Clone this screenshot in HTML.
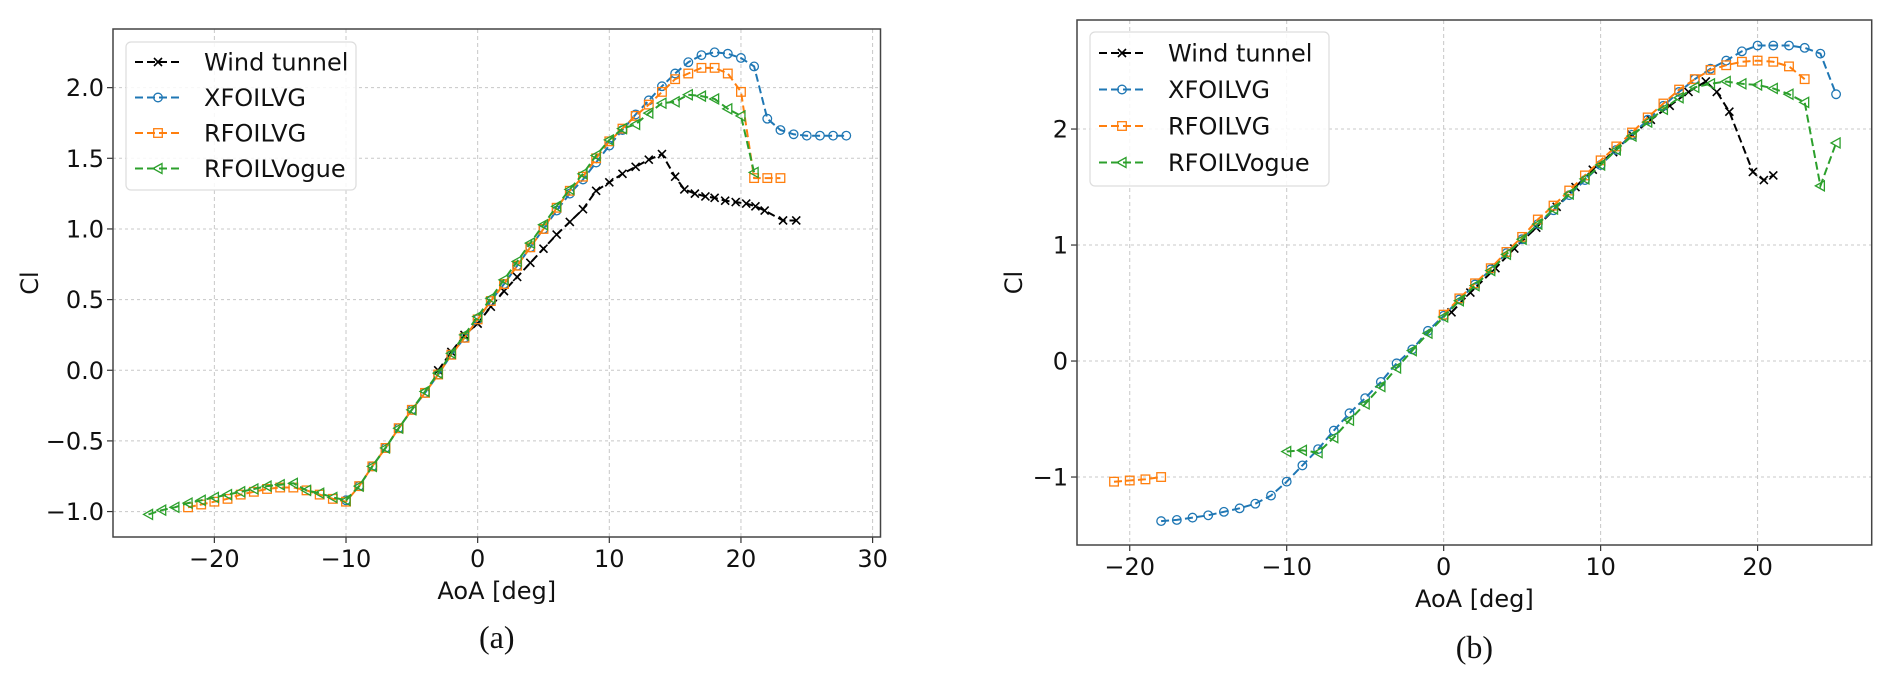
<!DOCTYPE html>
<html><head><meta charset="utf-8"><style>
html,body{margin:0;padding:0;background:#fff}
svg{display:block}
text{font-family:"DejaVu Sans","Liberation Sans",sans-serif;fill:#111}
</style></head><body>
<svg id="fig" width="1892" height="678" viewBox="0 0 1892 678" xmlns="http://www.w3.org/2000/svg"></svg>
<script>
// ---------- Chart (a) data ----------
const aWindX=[-3,-2,-1,0,1,2,3,4,5,6,7,8,9,10,11,12,13,14,15,15.7,16.5,17.3,18,18.8,19.6,20.4,21.1,21.8,23.2,24.2];
const aWindY=[0.0,0.13,0.25,0.33,0.45,0.56,0.66,0.76,0.86,0.96,1.05,1.14,1.27,1.33,1.39,1.44,1.49,1.53,1.37,1.28,1.25,1.23,1.22,1.20,1.19,1.18,1.16,1.13,1.06,1.06];
const aXfX=[-10,-9,-8,-7,-6,-5,-4,-3,-2,-1,0,1,2,3,4,5,6,7,8,9,10,11,12,13,14,15,16,17,18,19,20,21,22,23,24,25,26,27,28];
const aXfY=[-0.92,-0.82,-0.68,-0.55,-0.41,-0.28,-0.16,-0.03,0.11,0.23,0.36,0.49,0.61,0.74,0.87,1.0,1.13,1.25,1.35,1.47,1.59,1.70,1.81,1.91,2.01,2.10,2.18,2.23,2.25,2.24,2.21,2.15,1.78,1.70,1.67,1.66,1.66,1.66,1.66];
const aRfX=[-22,-21,-20,-19,-18,-17,-16,-15,-14,-13,-12,-11,-10,-9,-8,-7,-6,-5,-4,-3,-2,-1,0,1,2,3,4,5,6,7,8,9,10,11,12,13,14,15,16,17,18,19,20,21,22,23];
const aRfY=[-0.97,-0.95,-0.93,-0.91,-0.88,-0.86,-0.84,-0.83,-0.83,-0.85,-0.88,-0.91,-0.93,-0.82,-0.68,-0.55,-0.41,-0.28,-0.16,-0.03,0.11,0.23,0.36,0.49,0.61,0.74,0.87,1.0,1.15,1.27,1.37,1.50,1.62,1.71,1.80,1.88,1.97,2.06,2.10,2.14,2.14,2.10,1.97,1.36,1.36,1.36];
const aVgX=[-25,-24,-23,-22,-21,-20,-19,-18,-17,-16,-15,-14,-13,-12,-11,-10,-9,-8,-7,-6,-5,-4,-3,-2,-1,0,1,2,3,4,5,6,7,8,9,10,11,12,13,14,15,16,17,18,19,20,21];
const aVgY=[-1.02,-0.99,-0.97,-0.94,-0.92,-0.90,-0.88,-0.86,-0.84,-0.82,-0.81,-0.80,-0.85,-0.87,-0.90,-0.92,-0.82,-0.68,-0.55,-0.41,-0.28,-0.15,-0.02,0.12,0.25,0.38,0.51,0.64,0.77,0.90,1.03,1.16,1.28,1.39,1.52,1.63,1.71,1.74,1.82,1.89,1.90,1.95,1.94,1.92,1.85,1.80,1.40];
const aXTicks=[-20,-10,0,10,20,30];
const aYTicks=[-1.0,-0.5,0.0,0.5,1.0,1.5,2.0];
const aYTickLabels=["\u22121.0","\u22120.5","0.0","0.5","1.0","1.5","2.0"];
// ---------- Chart (b) data ----------
const bWindX=[0.5,1.7,3.3,4.5,5.9,7.2,8.4,9.5,10.8,12.0,13.2,14.4,15.6,16.7,17.4,18.2,19.7,20.4,21.0];
const bWindY=[0.42,0.59,0.80,0.97,1.15,1.33,1.50,1.65,1.80,1.95,2.08,2.20,2.32,2.41,2.32,2.15,1.63,1.56,1.60];
const bXfX=[-18,-17,-16,-15,-14,-13,-12,-11,-10,-9,-8,-7,-6,-5,-4,-3,-2,-1,0,1,2,3,4,5,6,7,8,9,10,11,12,13,14,15,16,17,18,19,20,21,22,23,24,25];
const bXfY=[-1.38,-1.37,-1.35,-1.33,-1.30,-1.27,-1.23,-1.16,-1.04,-0.90,-0.76,-0.60,-0.45,-0.32,-0.18,-0.02,0.10,0.26,0.39,0.53,0.66,0.79,0.93,1.05,1.18,1.30,1.43,1.56,1.69,1.82,1.95,2.08,2.20,2.32,2.43,2.52,2.59,2.67,2.72,2.72,2.72,2.70,2.65,2.30];
const bRfX=[-21,-20,-19,-18,null,0,1,2,3,4,5,6,7,8,9,10,11,12,13,14,15,16,17,18,19,20,21,22,23];
const bRfY=[-1.04,-1.03,-1.02,-1.00,null,0.40,0.54,0.67,0.80,0.94,1.07,1.22,1.34,1.47,1.60,1.73,1.85,1.97,2.10,2.22,2.34,2.43,2.51,2.55,2.58,2.59,2.58,2.54,2.43];
const bVgX=[-10,-9,-8,-7,-6,-5,-4,-3,-2,-1,0,1,2,3,4,5,6,7,8,9,10,11,12,13,14,15,16,17,18,19,20,21,22,23,24,25];
const bVgY=[-0.78,-0.77,-0.79,-0.66,-0.51,-0.37,-0.22,-0.06,0.09,0.24,0.38,0.52,0.65,0.78,0.92,1.05,1.18,1.31,1.44,1.57,1.69,1.82,1.94,2.06,2.17,2.27,2.36,2.39,2.41,2.39,2.38,2.35,2.30,2.23,1.51,1.88];
const bXTicks=[-20,-10,0,10,20];
const bYTicks=[-1,0,1,2];
const bYTickLabels=["\u22121","0","1","2"];
const xTickLabelsA=["\u221220","\u221210","0","10","20","30"];
const xTickLabelsB=["\u221220","\u221210","0","10","20"];
const seriesNames=["Wind tunnel","XFOILVG","RFOILVG","RFOILVogue"];

const NS="http://www.w3.org/2000/svg";
const svg=document.getElementById('fig');
function mk(tag,attrs,parent){const e=document.createElementNS(NS,tag);for(const k in attrs)e.setAttribute(k,attrs[k]);(parent||svg).appendChild(e);return e;}
const COLORS=["#000000","#1f77b4","#ff7f0e","#2ca02c"];
const MARKS=["x","o","s","<"];

function marker(g,type,x,y,c){
  let m;
  if(type==="x"){m=mk('path',{d:`M${x-4},${y-4}L${x+4},${y+4}M${x-4},${y+4}L${x+4},${y-4}`,stroke:c,'stroke-width':1.6,fill:'none'},g);}
  else if(type==="o"){m=mk('circle',{cx:x,cy:y,r:4.3,stroke:c,'stroke-width':1.3,fill:'none'},g);}
  else if(type==="s"){m=mk('rect',{x:x-4.3,y:y-4.3,width:8.6,height:8.6,stroke:c,'stroke-width':1.3,fill:'none'},g);}
  else {m=mk('path',{d:`M${x-5},${y}L${x+4},${y-5}L${x+4},${y+5}Z`,stroke:c,'stroke-width':1.3,fill:'none'},g);}
  return m;
}

function chart(cfg){
  const {L,T,R,B,xmin,xmax,ymin,ymax,xt,xtl,yt,ytl,series,name,legend,ylabX,caption}=cfg;
  const X=v=>L+(v-xmin)/(xmax-xmin)*(R-L);
  const Y=v=>B-(v-ymin)/(ymax-ymin)*(B-T);
  const g=mk('g',{});
  
  
  const grid=mk('g',{},g);
  
  
  xt.forEach((v,i)=>{
    mk('line',{x1:X(v),x2:X(v),y1:T,y2:B,stroke:'#c8c8c8','stroke-width':1,'stroke-dasharray':'4,3'},grid);
    mk('line',{x1:X(v),x2:X(v),y1:B,y2:B+6,stroke:'#333','stroke-width':1.2},g);
    const t=mk('text',{x:X(v),y:B+30,'text-anchor':'middle','font-size':24},g);t.textContent=xtl[i];
    
    
  });
  yt.forEach((v,i)=>{
    mk('line',{x1:L,x2:R,y1:Y(v),y2:Y(v),stroke:'#c8c8c8','stroke-width':1,'stroke-dasharray':'3,3'},grid);
    mk('line',{x1:L-6,x2:L,y1:Y(v),y2:Y(v),stroke:'#333','stroke-width':1.2},g);
    const t=mk('text',{x:L-9,y:Y(v)+8.5,'text-anchor':'end','font-size':24},g);t.textContent=ytl[i];
    
    
  });
  series.forEach((s,si)=>{
    const sg=mk('g',{},g);
    
    
    let d="",pen=false;
    s.x.forEach((xv,i)=>{if(xv===null){pen=false;return;}d+=(pen?"L":"M")+X(xv).toFixed(1)+","+Y(s.y[i]).toFixed(1);pen=true;});
    mk('path',{d:d,stroke:COLORS[si],'stroke-width':2,fill:'none','stroke-dasharray':'8,4'},sg);
    s.x.forEach((xv,i)=>{if(xv===null)return;const m=marker(sg,MARKS[si],X(xv),Y(s.y[i]),COLORS[si]);
      
      });
  });
  mk('rect',{x:L,y:T,width:R-L,height:B-T,fill:'none',stroke:'#444','stroke-width':1.5},g);
  const xl=mk('text',{x:(L+R)/2,y:B+62,'text-anchor':'middle','font-size':24},g);xl.textContent="AoA [deg]";
  
  
  const yl=mk('text',{x:ylabX,y:(T+B)/2,'text-anchor':'middle','font-size':24,transform:`rotate(-90 ${ylabX} ${(T+B)/2})`},g);yl.textContent="Cl";
  
  
  const cap=mk('text',{x:(L+R)/2,y:caption,'text-anchor':'middle','font-size':32,style:'font-family:"Liberation Serif",serif'},g);cap.textContent=cfg.capText;
  
  
  const lg=mk('g',{},g);
  
  
  mk('rect',{x:legend.x,y:legend.y,width:legend.w,height:legend.h,rx:5,fill:'#fff','fill-opacity':0.85,stroke:'#ddd','stroke-width':1.2},lg);
  seriesNames.forEach((n,i)=>{
    const yy=legend.y+legend.first+i*legend.dy;
    const e=mk('g',{},lg);
    
    
    mk('line',{x1:legend.x+9,x2:legend.x+55,y1:yy,y2:yy,stroke:COLORS[i],'stroke-width':2,'stroke-dasharray':'8,4'},e);
    marker(e,MARKS[i],legend.x+32,yy,COLORS[i]);
    const t=mk('text',{x:legend.x+78,y:yy+8.5,'font-size':24},e);t.textContent=n;
  });
}

chart({L:113,T:29,R:880.5,B:537,xmin:-27.7,xmax:30.6,ymin:-1.18,ymax:2.415,xt:aXTicks,xtl:xTickLabelsA,yt:aYTicks,ytl:aYTickLabels,
  series:[{x:aWindX,y:aWindY},{x:aXfX,y:aXfY},{x:aRfX,y:aRfY},{x:aVgX,y:aVgY}],name:'chart-a',ylabX:38,caption:648,capText:'(a)',
  legend:{x:126,y:42,w:230,h:148,first:20,dy:35.5}});
chart({L:1077,T:20,R:1871.7,B:545,xmin:-23.36,xmax:27.27,ymin:-1.586,ymax:2.94,xt:bXTicks,xtl:xTickLabelsB,yt:bYTicks,ytl:bYTickLabels,
  series:[{x:bWindX,y:bWindY},{x:bXfX,y:bXfY},{x:bRfX,y:bRfY},{x:bVgX,y:bVgY}],name:'chart-b',ylabX:1022,caption:658,capText:'(b)',
  legend:{x:1090,y:32,w:239,h:154,first:21,dy:36.5}});
</script>
</body></html>
